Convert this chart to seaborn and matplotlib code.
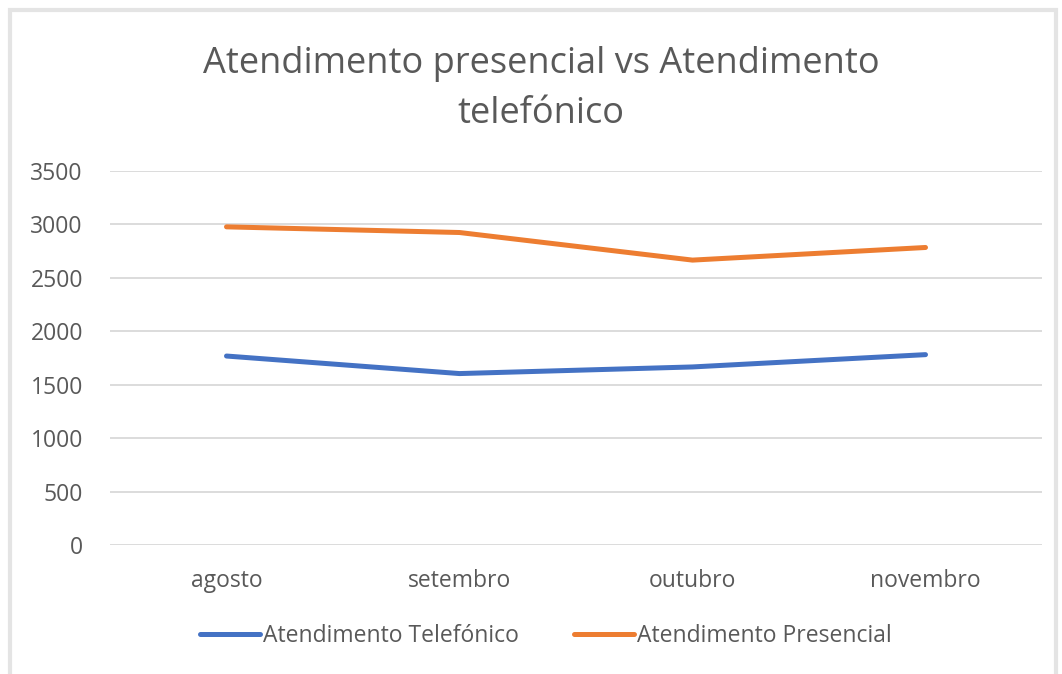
import matplotlib
matplotlib.use("Agg")
import matplotlib.pyplot as plt
import seaborn as sns
import pandas as pd
from matplotlib.patches import Rectangle

months = ["agosto", "setembro", "outubro", "novembro"]
telefonico = [1767, 1603, 1665, 1780]
presencial = [2975, 2922, 2664, 2782]
series_names = ["Atendimento Telefónico", "Atendimento Presencial"]
title = "Atendimento presencial vs Atendimento\ntelefónico"
yticks = [0, 500, 1000, 1500, 2000, 2500, 3000, 3500]

df = pd.DataFrame({
    "mes": months * 2,
    "valor": telefonico + presencial,
    "serie": [series_names[0]] * len(months) + [series_names[1]] * len(months),
})
df["x"] = list(range(len(months))) * 2

sns.set_theme(style="white")
plt.rcParams["font.family"] = ["Open Sans", "DejaVu Sans"]
text_color = "#595959"

fig = plt.figure(figsize=(10.62, 6.74), dpi=100)
fig.patch.set_facecolor("white")
ax = fig.add_axes([110 / 1062, 1 - 545 / 674, 932 / 1062, (545 - 170.7) / 674])

sns.lineplot(data=df, x="x", y="valor", hue="serie",
             palette=["#4472C4", "#ED7D31"], linewidth=3.6, ax=ax,
             legend=False, solid_capstyle="round")

ax.set_xlim(-0.5, len(months) - 0.5)
ax.set_ylim(0, 3500)
ax.set_xticks(range(len(months)))
ax.set_xticklabels(months)
ax.set_yticks(yticks)
ax.set_yticklabels([str(v) for v in yticks])
ax.grid(axis="y", color="#D9D9D9", linewidth=1.3)
ax.grid(axis="x", visible=False)
for s in ax.spines.values():
    s.set_visible(False)
ax.tick_params(axis="both", length=0, labelsize=16.5, colors=text_color)
ax.tick_params(axis="y", pad=19.5)
ax.tick_params(axis="x", pad=17)
ax.set_xlabel("")
ax.set_ylabel("")

fig.text(541 / 1062, 1 - 89 / 674, title, ha="center", va="center",
         fontsize=26, color=text_color, linespacing=1.55)

# legend
handles = [plt.Line2D([0], [0], color="#4472C4", lw=3.6),
           plt.Line2D([0], [0], color="#ED7D31", lw=3.6)]
fig.legend(handles, series_names, loc="center", bbox_to_anchor=(546 / 1062, 1 - 636 / 674),
           ncol=2, frameon=False, fontsize=16.5, labelcolor=text_color,
           handlelength=2.6, handletextpad=0.15, columnspacing=2.4)

# chart border
fig.patches.append(Rectangle((10 / 1062, -0.05), 1046 / 1062, 1 - 10 / 674 + 0.05,
                             transform=fig.transFigure, fill=False,
                             edgecolor="#E4E4E4", linewidth=3))

fig.savefig("out.png", dpi=100, facecolor="white")
